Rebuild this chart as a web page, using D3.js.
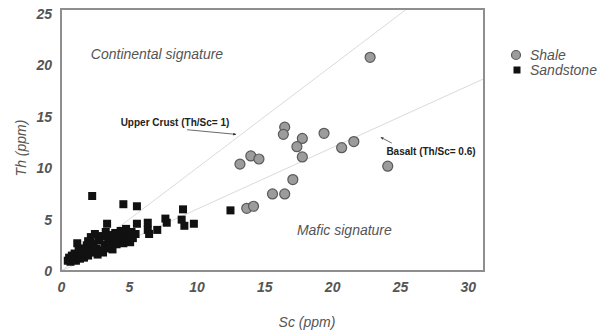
<!DOCTYPE html>
<html>
<head>
<meta charset="utf-8">
<script src="https://cdn.jsdelivr.net/npm/d3@7"></script>
<style>
  html, body { margin: 0; padding: 0; background: #fff; }
  svg { display: block; font-family: "Liberation Sans", Arial, sans-serif; }
</style>
</head>
<body>
<svg id="chart" width="608" height="332"></svg>
<script>
// Th vs Sc (ppm) for shale and sandstone samples
const shaleSc = [22.8, 16.5, 16.4, 17.8, 19.4, 17.4, 17.8, 20.7, 21.6, 24.1,
                 13.2, 14.0, 14.6, 17.1, 15.6, 16.5, 13.7, 14.2];
const shaleTh = [20.8, 14.0, 13.3, 12.9, 13.4, 12.1, 11.1, 12.0, 12.6, 10.2,
                 10.4, 11.2, 10.9, 8.9, 7.5, 7.5, 6.1, 6.3];

const sandSc = [0.5, 0.6, 0.7, 0.8, 0.9, 1.0, 1.1, 1.2, 1.2, 1.3,
                1.4, 1.5, 1.6, 1.7, 1.8, 1.9, 2.0, 2.0, 2.1, 2.2,
                2.3, 2.4, 2.5, 2.6, 2.7, 2.8, 2.9, 3.0, 3.1, 3.2,
                3.3, 3.4, 3.5, 3.6, 3.7, 3.8, 3.9, 4.0, 4.1, 4.2,
                4.3, 4.4, 4.5, 4.6, 4.7, 4.8, 4.9, 5.0, 5.1, 5.2,
                5.3, 5.5,
                2.3, 4.6, 5.6, 3.4, 5.6, 6.4, 6.4, 6.5, 7.1, 7.7,
                7.8, 9.0, 8.9, 9.1, 9.8, 12.5];
const sandTh = [1.0, 1.3, 0.9, 1.5, 1.2, 1.7, 1.0, 1.4, 2.7, 2.0,
                1.2, 1.6, 2.2, 1.3, 1.8, 2.5, 1.5, 2.9, 2.1, 3.3,
                1.8, 2.6, 3.6, 2.2, 1.6, 3.0, 2.0, 3.4, 1.8, 2.6,
                3.8, 2.2, 3.1, 2.5, 3.5, 2.1, 3.0, 3.7, 2.6, 3.3,
                2.9, 3.9, 3.2, 2.7, 3.6, 4.1, 3.0, 3.4, 2.8, 3.8,
                3.2, 3.6,
                7.3, 6.5, 6.3, 4.6, 4.6, 4.7, 4.0, 3.6, 4.0, 5.1,
                4.7, 6.0, 5.0, 4.4, 4.6, 5.9];

// Reference Th/Sc ratios
const ratioNames = ["Upper Crust (Th/Sc= 1)", "Basalt (Th/Sc= 0.6)"];
const ratioValues = [1, 0.6];

const xTicks = [0, 5, 10, 15, 20, 25, 30];
const yTicks = [0, 5, 10, 15, 20, 25];

const svg = d3.select("#chart");
const plotL = 61, plotR = 484, plotT = 9, plotB = 271;

const x = d3.scaleLinear().domain([0, 31.2]).range([plotL, plotR]);
const y = d3.scaleLinear().domain([0, 25.5]).range([plotB, plotT]);

const defs = svg.append("defs");
defs.append("clipPath").attr("id", "plot")
  .append("rect").attr("x", plotL).attr("y", plotT)
  .attr("width", plotR - plotL).attr("height", plotB - plotT);

const marker = defs.append("marker")
  .attr("id", "head").attr("viewBox", "0 0 6 6")
  .attr("refX", 5).attr("refY", 3)
  .attr("markerWidth", 4).attr("markerHeight", 4)
  .attr("orient", "auto");
marker.append("path").attr("d", "M0,0.5 L6,3 L0,5.5 Z").attr("fill", "#333");

// Ratio lines
const g = svg.append("g").attr("clip-path", "url(#plot)");
ratioValues.forEach(r => {
  g.append("line")
    .attr("x1", x(0)).attr("y1", y(0))
    .attr("x2", x(40)).attr("y2", y(40 * r))
    .attr("stroke", "#dadada").attr("stroke-width", 1);
});

// Sandstone squares
const sq = 8;
svg.append("g").selectAll("rect").data(sandSc).join("rect")
  .attr("x", d => x(d) - sq / 2)
  .attr("y", (d, i) => y(sandTh[i]) - sq / 2)
  .attr("width", sq).attr("height", sq)
  .attr("fill", "#111");

// Shale circles
svg.append("g").selectAll("circle").data(shaleSc).join("circle")
  .attr("cx", d => x(d))
  .attr("cy", (d, i) => y(shaleTh[i]))
  .attr("r", 5)
  .attr("fill", "#9c9c9c").attr("stroke", "#5a5a5a").attr("stroke-width", 1.2);

// Frame
svg.append("rect")
  .attr("x", plotL).attr("y", plotT)
  .attr("width", plotR - plotL).attr("height", plotB - plotT)
  .attr("fill", "none").attr("stroke", "#8e8e8e").attr("stroke-width", 2);

// Axes
const xAxis = svg.append("g").attr("transform", `translate(0,${plotB})`)
  .call(d3.axisBottom(x).tickValues(xTicks).tickSize(0).tickPadding(11));
const yAxis = svg.append("g").attr("transform", `translate(${plotL},0)`)
  .call(d3.axisLeft(y).tickValues(yTicks).tickSize(0).tickPadding(9));
[xAxis, yAxis].forEach(a => {
  a.select(".domain").remove();
  a.selectAll("text")
    .attr("font-family", "Liberation Sans, Arial, sans-serif")
    .attr("font-size", 14).attr("font-weight", "bold").attr("font-style", "italic")
    .attr("fill", "#555");
});

// Axis titles
svg.append("text").attr("x", 307).attr("y", 327)
  .attr("text-anchor", "middle").attr("font-size", 14).attr("font-style", "italic")
  .attr("fill", "#555").text("Sc (ppm)");
svg.append("text").attr("transform", "translate(26,148) rotate(-90)")
  .attr("text-anchor", "middle").attr("font-size", 14).attr("font-style", "italic")
  .attr("fill", "#555").text("Th (ppm)");

// Field labels
svg.append("text").attr("x", x(2.2)).attr("y", y(20.6))
  .attr("font-size", 14).attr("font-style", "italic").attr("fill", "#555")
  .text("Continental signature");
svg.append("text").attr("x", x(17.4)).attr("y", y(3.5))
  .attr("font-size", 14).attr("font-style", "italic").attr("fill", "#555")
  .text("Mafic signature");

// Ratio annotations with arrows
svg.append("text").attr("x", x(4.4)).attr("y", y(14.1))
  .attr("font-size", 10).attr("font-weight", "bold").attr("fill", "#222")
  .text(ratioNames[0]);
svg.append("line")
  .attr("x1", x(9.3)).attr("y1", y(13.75))
  .attr("x2", x(12.9)).attr("y2", y(13.3))
  .attr("stroke", "#444").attr("stroke-width", 0.8)
  .attr("marker-end", "url(#head)");

svg.append("text").attr("x", x(24.0)).attr("y", y(11.3))
  .attr("font-size", 10).attr("font-weight", "bold").attr("fill", "#222")
  .text(ratioNames[1]);
svg.append("line")
  .attr("x1", x(24.4)).attr("y1", y(12.45))
  .attr("x2", x(23.6)).attr("y2", y(13.0))
  .attr("stroke", "#444").attr("stroke-width", 0.8)
  .attr("marker-end", "url(#head)");

// Legend
const legend = svg.append("g");
legend.append("circle").attr("cx", 516).attr("cy", 55).attr("r", 4.5)
  .attr("fill", "#9c9c9c").attr("stroke", "#5a5a5a").attr("stroke-width", 1.2);
legend.append("rect").attr("x", 513.5).attr("y", 66.5).attr("width", 7).attr("height", 7)
  .attr("fill", "#111");
legend.append("text").attr("x", 530).attr("y", 60)
  .attr("font-size", 14).attr("font-style", "italic").attr("fill", "#555").text("Shale");
legend.append("text").attr("x", 530).attr("y", 75)
  .attr("font-size", 14).attr("font-style", "italic").attr("fill", "#555").text("Sandstone");
</script>
</body>
</html>
